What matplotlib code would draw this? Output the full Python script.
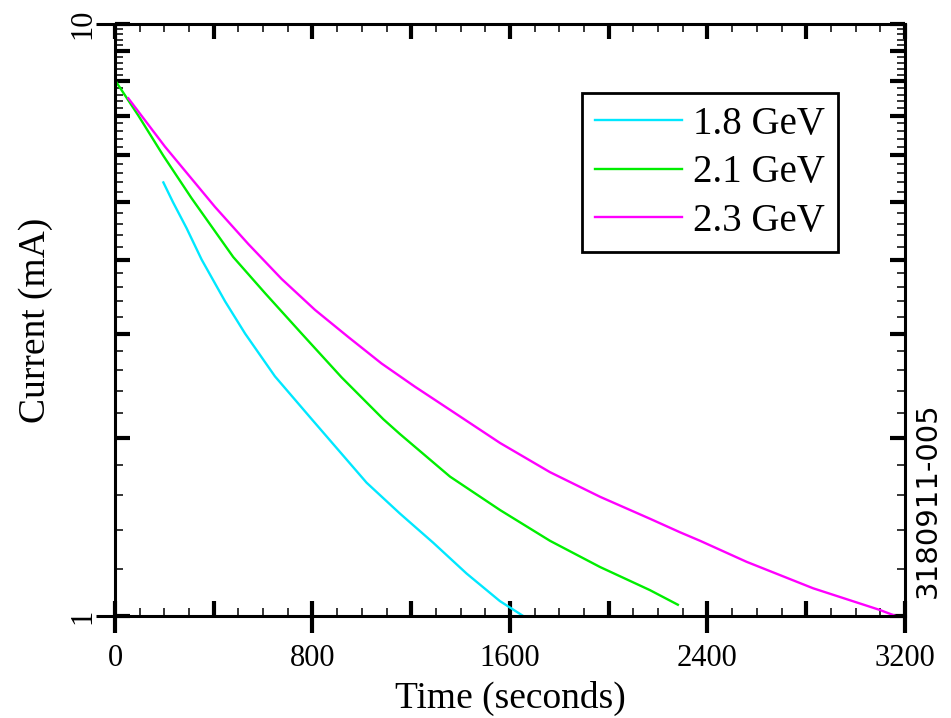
import matplotlib
matplotlib.use("Agg")
import matplotlib.pyplot as plt
from matplotlib.ticker import FixedLocator, FixedFormatter, NullFormatter

# beam current decay
t_18 = [196, 235, 290, 351, 446, 527, 648, 797, 1019, 1154, 1289, 1424, 1559, 1654]
i_18 = [5.40, 5.00, 4.52, 4.00, 3.40, 3.00, 2.54, 2.15, 1.68, 1.49, 1.33, 1.18, 1.06, 1.00]
t_21 = [0, 95, 196, 310, 479, 608, 756, 918, 1087, 1154, 1357, 1560, 1762, 1965, 2167, 2280]
i_21 = [8.04, 7.00, 5.99, 5.08, 4.04, 3.51, 3.00, 2.53, 2.15, 2.03, 1.72, 1.51, 1.34, 1.21, 1.106, 1.045]
t_23 = [54, 202, 405, 540, 675, 810, 945, 1080, 1215, 1357, 1560, 1762, 1965, 2167,
        2289, 2370, 2558, 2828, 3098, 3163]
i_23 = [7.49, 6.21, 4.91, 4.25, 3.71, 3.29, 2.96, 2.67, 2.44, 2.23, 1.96, 1.75, 1.59, 1.46,
        1.385, 1.34, 1.235, 1.114, 1.024, 1.00]

labels = ["1.8 GeV", "2.1 GeV", "2.3 GeV"]
colors = ["#00e8ff", "#00ee00", "#ff00ff"]

x_labels = ["0", "800", "1600", "2400", "3200"]
y_labels = ["1", "10"]

plt.rcParams['font.family'] = ['Liberation Serif', 'DejaVu Serif']

fig = plt.figure(figsize=(9.51, 7.18), dpi=100)
ax = fig.add_axes([0.1209, 0.142, 0.8307, 0.8246])

ax.plot(t_18, i_18, color=colors[0], lw=1.7, label=labels[0])
ax.plot(t_21, i_21, color=colors[1], lw=1.7, label=labels[1])
ax.plot(t_23, i_23, color=colors[2], lw=1.7, label=labels[2])

ax.set_yscale('log')
ax.set_xlim(0, 3200)
ax.set_ylim(1, 10)

for s in ax.spines.values():
    s.set_linewidth(2.2)

# x ticks: bold every 400, labels every 800, minor every 100
xmaj = list(range(0, 3201, 400))
ax.xaxis.set_major_locator(FixedLocator(xmaj))
ax.xaxis.set_major_formatter(FixedFormatter(
    [x_labels[v // 800] if v % 800 == 0 else "" for v in xmaj]))
ax.xaxis.set_minor_locator(FixedLocator([v for v in range(0, 3201, 100) if v % 400]))
ax.xaxis.set_minor_formatter(NullFormatter())

# y ticks: bold at integers, minor every 0.2
ymaj = list(range(1, 11))
ax.yaxis.set_major_locator(FixedLocator(ymaj))
ax.yaxis.set_major_formatter(FixedFormatter([y_labels[0]] + [""] * 8 + [y_labels[1]]))
ax.yaxis.set_minor_locator(FixedLocator([round(1 + 0.2 * k, 1) for k in range(1, 45) if k % 5]))
ax.yaxis.set_minor_formatter(NullFormatter())

ax.tick_params(which='major', direction='in', length=11, width=3.0,
               top=True, right=True, labelsize=22)
ax.tick_params(which='minor', direction='in', length=6, width=1.1,
               top=True, right=True)
ax.tick_params(axis='x', which='major', pad=20)
ax.tick_params(axis='y', which='major', pad=13)
for lab in ax.get_yticklabels():
    lab.set_rotation(90)
    lab.set_va('center')

# outward stubs at the labelled positions
secx = ax.secondary_xaxis('bottom')
secx.set_xticks([0, 800, 1600, 2400, 3200])
secx.tick_params(direction='out', length=12, width=3.0, labelbottom=False)
secx.spines['bottom'].set_visible(False)
secy = ax.secondary_yaxis('left')
secy.set_yticks([1, 10])
secy.yaxis.set_minor_locator(FixedLocator([]))
secy.tick_params(direction='out', length=14, width=2.2, labelleft=False)
secy.spines['left'].set_visible(False)

ax.set_xlabel("Time (seconds)", fontsize=27, labelpad=6)
ax.set_ylabel("Current (mA)", fontsize=27, labelpad=11)

leg = ax.legend(loc='upper left', bbox_to_anchor=(0.591, 0.883), fontsize=28,
                fancybox=False, edgecolor='black', framealpha=1,
                handlelength=2.24, handletextpad=0.3, labelspacing=0.29,
                borderpad=0.33, borderaxespad=0)
leg.get_frame().set_linewidth(2.0)

fig.text(0.976, 0.304, "3180911-005", rotation=90, ha='center', va='center',
         fontsize=21, family='DejaVu Sans')

fig.savefig("out.png", dpi=100)
